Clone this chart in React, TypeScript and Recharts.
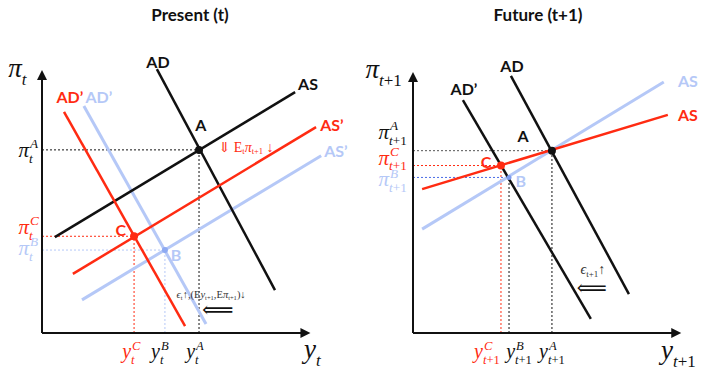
import React from "react";
import { ComposedChart, Line, XAxis, YAxis, ReferenceLine, ReferenceDot } from "recharts";

// output (x) and inflation (y) in diagram units, 0..100 on each axis
const presentAD = [{ output: 42.8, inflation: 99.6 }, { output: 86.8, inflation: 16.2 }];
const presentAS = [{ output: 4.8, inflation: 36.2 }, { output: 94.3, inflation: 90.9 }];
const presentADNew = [{ output: 8.2, inflation: 83.4 }, { output: 53.3, inflation: 2.6 }];
const presentASNew = [{ output: 11.5, inflation: 22.3 }, { output: 102.1, inflation: 77.7 }];
const presentADGhost = [{ output: 15.6, inflation: 85.7 }, { output: 61.1, inflation: 3.4 }];
const presentASGhost = [{ output: 14.9, inflation: 12.5 }, { output: 104, inflation: 66.9 }];
const presentA = { output: 58.5, inflation: 69.1 };
const presentC = { output: 34.3, inflation: 36.5 };
const presentB = { output: 45.8, inflation: 31.3 };

const futureAD = [{ output: 36.5, inflation: 97 }, { output: 80.5, inflation: 14.7 }];
const futureADNew = [{ output: 18.6, inflation: 87.9 }, { output: 66.3, inflation: 5.3 }];
const futureASGhost = [{ output: 3.4, inflation: 39.2 }, { output: 93.5, inflation: 94.7 }];
const futureASNew = [{ output: 3.4, inflation: 54.3 }, { output: 95, inflation: 82.3 }];
const futureA = { output: 51.8, inflation: 68.8 };
const futureC = { output: 32.8, inflation: 63.2 };
const futureB = { output: 35.8, inflation: 58.7 };

// tick labels, in the order C, B, A
const tickSups = ["C", "B", "A"];
const presentSub = "t";
const futureSub = "t+1";

const INK = "#111";
const RED = "#ff2b12";
const GHOST = "#b5c8f7";
const BLUE = "#4a6ce6";
const SERIF = "'Liberation Serif', 'DejaVu Serif', serif";
const ROUND = "Lato, 'DejaVu Sans', sans-serif";

// base symbol ends at x, super/subscript stacked right after it
function Sym({ x, y, base, sup, sub, color, size }: any) {
  const small = size * 0.63;
  const subParts = sub ? sub.split(/(\+1)/) : [];
  return (
    <g fill={color} fontFamily={SERIF}>
      <text x={x} y={y} textAnchor="end" fontSize={size} fontStyle="italic">{base}</text>
      {sup && <text x={x + 1} y={y - size * 0.42} fontSize={small} fontStyle="italic">{sup}</text>}
      {sub && (
        <text x={x} y={y + size * 0.28} fontSize={small}>
          {subParts.map((s: string, i: number) => (
            <tspan key={i} fontStyle={s === "+1" ? "normal" : "italic"}>{s}</tspan>
          ))}
        </text>
      )}
    </g>
  );
}

const tag = (text: string, color: string, size = 16) => (p: any) => (
  <text x={p.cx} y={p.cy} textAnchor="middle" dominantBaseline="central" fill={color}
    fontFamily={ROUND} fontWeight={700} fontSize={size}>{text}</text>
);

const axisArrow = (vertical: boolean) => (p: any) => {
  const { x1, y1, x2, y2 } = p;
  const head = vertical
    ? `${x2},${y2} ${x2 - 5},${y2 + 10} ${x2 + 5},${y2 + 10}`
    : `${x2},${y2} ${x2 - 10},${y2 - 5} ${x2 - 10},${y2 + 5}`;
  return (
    <g>
      <line x1={x1} y1={y1} x2={vertical ? x2 : x2 - 6} y2={vertical ? y2 + 6 : y2} stroke={INK} strokeWidth={2} />
      <polygon points={head} fill={INK} />
    </g>
  );
};

function Guides({ pt, h, v }: any) {
  return (
    <>
      <ReferenceLine segment={[{ x: 0, y: pt.inflation }, { x: pt.output, y: pt.inflation }]}
        stroke={h} strokeWidth={1} strokeDasharray="2 2" ifOverflow="visible" />
      <ReferenceLine segment={[{ x: pt.output, y: 0 }, { x: pt.output, y: pt.inflation }]}
        stroke={v} strokeWidth={1} strokeDasharray="2 2" ifOverflow="visible" />
    </>
  );
}

const seg = (data: any[], color: string, width = 2.5, key = "") => (
  <Line key={key} data={data} dataKey="inflation" type="linear" stroke={color} strokeWidth={width}
    dot={false} activeDot={false} isAnimationActive={false} />
);

// tick labels drawn at the scaled tick positions along each axis
function XTicks({ pts, colors, sub, dx }: any) {
  return pts.map((pt: any, i: number) => (
    <ReferenceDot key={"xt" + i} x={pt.output} y={0} ifOverflow="visible" shape={(p: any) => (
      <Sym x={p.cx + dx[i]} y={p.cy + 25} base="y" sup={tickSups[i]} sub={sub} color={colors[i]} size={20} />
    )} />
  ));
}

function YTicks({ pts, colors, sub, dx, dy }: any) {
  return pts.map((pt: any, i: number) => (
    <ReferenceDot key={"yt" + i} x={0} y={pt.inflation} ifOverflow="visible" shape={(p: any) => (
      <Sym x={p.cx + dx} y={p.cy + dy[i]} base="π" sup={tickSups[i]} sub={sub} color={colors[i]} size={21} />
    )} />
  ));
}

function PresentChart() {
  const pts = [presentC, presentB, presentA];
  return (
    <ComposedChart width={351} height={372} margin={{ top: 68, right: 3, bottom: 39, left: 42 }}>
      <XAxis type="number" dataKey="output" domain={[0, 114]} hide />
      <YAxis type="number" domain={[0, 100]} hide />

      <Guides pt={presentA} h={INK} v={INK} />
      <Guides pt={presentC} h={RED} v={RED} />
      <Guides pt={presentB} h={GHOST} v={GHOST} />

      <ReferenceLine segment={[{ x: 0, y: 0 }, { x: 0, y: 99.2 }]} shape={axisArrow(true)} ifOverflow="visible" />
      <ReferenceLine segment={[{ x: 0, y: 0 }, { x: 100, y: 0 }]} shape={axisArrow(false)} ifOverflow="visible" />

      {seg(presentASGhost, GHOST, 3, "asg")}
      {seg(presentADGhost, GHOST, 3, "adg")}
      {seg(presentAS, INK, 2.5, "as")}
      {seg(presentAD, INK, 2.5, "ad")}
      {seg(presentASNew, RED, 2.5, "asn")}
      {seg(presentADNew, RED, 2.5, "adn")}

      <ReferenceDot x={presentA.output} y={presentA.inflation} r={4} fill={INK} stroke="none" />
      <ReferenceDot x={presentC.output} y={presentC.inflation} r={4} fill={RED} stroke="none" />
      <ReferenceDot x={presentB.output} y={presentB.inflation} r={3} fill="#8eaaf2" stroke="none" />

      {XTicks({ pts, colors: [RED, INK, INK], sub: presentSub, dx: [-3, -5, -4] })}
      {YTicks({ pts, colors: [RED, GHOST, INK], sub: presentSub, dx: -13, dy: [-2, 5, 7] })}

      <ReferenceDot x={43.2} y={102.3} ifOverflow="visible" shape={tag("AD", INK)} />
      <ReferenceDot x={99.1} y={94} ifOverflow="visible" shape={tag("AS", INK)} />
      <ReferenceDot x={59.2} y={78.5} ifOverflow="visible" shape={tag("A", INK)} />
      <ReferenceDot x={10.4} y={89.4} ifOverflow="visible" shape={tag("AD’", RED)} />
      <ReferenceDot x={21.2} y={89.4} ifOverflow="visible" shape={tag("AD’", GHOST)} />
      <ReferenceDot x={108} y={78.5} ifOverflow="visible" shape={tag("AS’", RED)} />
      <ReferenceDot x={109.5} y={68.7} ifOverflow="visible" shape={tag("AS’", GHOST)} />
      <ReferenceDot x={29.4} y={39.2} ifOverflow="visible" shape={tag("C", RED)} />
      <ReferenceDot x={49.9} y={29.8} ifOverflow="visible" shape={tag("B", GHOST)} />

      <ReferenceDot x={76} y={69.8} ifOverflow="visible" shape={(p: any) => (
        <text x={p.cx} y={p.cy + 4} textAnchor="middle" fill={RED} fontFamily={SERIF} fontSize={14}>
          ⇓ E<tspan fontSize={8.5} dy={2}>t</tspan><tspan dy={-2} fontStyle="italic">π</tspan>
          <tspan fontSize={8.5} dy={2}>t+1</tspan><tspan dy={-2}> ↓</tspan>
        </text>
      )} />
      <ReferenceDot x={63} y={14.5} ifOverflow="visible" shape={(p: any) => (
        <text x={p.cx} y={p.cy + 3} textAnchor="middle" fill="#333" fontFamily={SERIF} fontSize={10.5}>
          <tspan fontStyle="italic">ϵ</tspan><tspan fontSize={6.5} dy={2}>t</tspan><tspan dy={-2}>↑,(E</tspan>
          <tspan fontStyle="italic">y</tspan><tspan fontSize={6.5} dy={2}>t+1</tspan><tspan dy={-2}>,E</tspan>
          <tspan fontStyle="italic">π</tspan><tspan fontSize={6.5} dy={2}>t+1</tspan><tspan dy={-2}>)↓</tspan>
        </text>
      )} />
      <ReferenceDot x={65.5} y={8.4} ifOverflow="visible" shape={(p: any) => (
        <text x={p.cx} y={p.cy + 6} textAnchor="middle" fill={INK} fontFamily={SERIF} fontSize={22}>⟸</text>
      )} />

      <ReferenceDot x={-7.5} y={96.6} ifOverflow="visible" shape={(p: any) => (
        <Sym x={p.cx} y={p.cy} base="π" sub="t" color={INK} size={27} />
      )} />
      <ReferenceDot x={102.1} y={-9.6} ifOverflow="visible" shape={(p: any) => (
        <Sym x={p.cx} y={p.cy} base="y" sub="t" color={INK} size={27} />
      )} />
    </ComposedChart>
  );
}

function FutureChart() {
  const pts = [futureC, futureB, futureA];
  return (
    <ComposedChart width={351} height={372} margin={{ top: 68, right: 2, bottom: 39, left: 62 }}>
      <XAxis type="number" dataKey="output" domain={[0, 107]} hide />
      <YAxis type="number" domain={[0, 100]} hide />

      <Guides pt={futureA} h="#555" v={INK} />
      <Guides pt={futureC} h={RED} v={RED} />
      <Guides pt={futureB} h={BLUE} v={INK} />

      <ReferenceLine segment={[{ x: 0, y: 0 }, { x: 0, y: 98.5 }]} shape={axisArrow(true)} ifOverflow="visible" />
      <ReferenceLine segment={[{ x: 0, y: 0 }, { x: 100, y: 0 }]} shape={axisArrow(false)} ifOverflow="visible" />

      {seg(futureASGhost, GHOST, 3, "asg")}
      {seg(futureAD, INK, 2.5, "ad")}
      {seg(futureADNew, INK, 2.5, "adn")}
      {seg(futureASNew, RED, 2.5, "asn")}

      <ReferenceDot x={futureA.output} y={futureA.inflation} r={4} fill={INK} stroke="none" />
      <ReferenceDot x={futureC.output} y={futureC.inflation} r={4} fill={RED} stroke="none" />
      <ReferenceDot x={futureB.output} y={futureB.inflation} r={2.5} fill="#7f9cf0" stroke="none" />

      {XTicks({ pts, colors: [RED, INK, INK], sub: futureSub, dx: [-18, 6, -4] })}
      {YTicks({ pts, colors: [RED, GHOST, INK], sub: futureSub, dx: -24, dy: [-1, 9, -12] })}

      <ReferenceDot x={36.9} y={101.1} ifOverflow="visible" shape={tag("AD", INK)} />
      <ReferenceDot x={19} y={92.1} ifOverflow="visible" shape={tag("AD’", INK)} />
      <ReferenceDot x={102.5} y={95.1} ifOverflow="visible" shape={tag("AS", GHOST)} />
      <ReferenceDot x={102.5} y={82.3} ifOverflow="visible" shape={tag("AS", RED)} />
      <ReferenceDot x={41} y={74.7} ifOverflow="visible" shape={tag("A", INK)} />
      <ReferenceDot x={27.2} y={64.9} ifOverflow="visible" shape={tag("C", RED)} />
      <ReferenceDot x={40.2} y={57.4} ifOverflow="visible" shape={tag("B", GHOST)} />

      <ReferenceDot x={67.1} y={23.4} ifOverflow="visible" shape={(p: any) => (
        <text x={p.cx} y={p.cy + 3} textAnchor="middle" fill="#333" fontFamily={SERIF} fontSize={14}>
          <tspan fontStyle="italic">ϵ</tspan><tspan fontSize={9} dy={3}>t+1</tspan><tspan dy={-3}>↑</tspan>
        </text>
      )} />
      <ReferenceDot x={66.7} y={16.6} ifOverflow="visible" shape={(p: any) => (
        <text x={p.cx} y={p.cy + 6} textAnchor="middle" fill={INK} fontFamily={SERIF} fontSize={21}>⟸</text>
      )} />

      <ReferenceDot x={-12.7} y={96.2} ifOverflow="visible" shape={(p: any) => (
        <Sym x={p.cx} y={p.cy} base="π" sub="t+1" color={INK} size={27} />
      )} />
      <ReferenceDot x={96.9} y={-9.8} ifOverflow="visible" shape={(p: any) => (
        <Sym x={p.cx} y={p.cy} base="y" sub="t+1" color={INK} size={27} />
      )} />
    </ComposedChart>
  );
}

const titleStyle: React.CSSProperties = {
  position: "absolute", top: 4, fontFamily: ROUND, fontWeight: 700, fontSize: 17,
  textAlign: "center", width: 200, color: INK,
};

export default function App() {
  return (
    <div style={{ position: "absolute", left: 0, top: 0, width: 702, height: 372, background: "#fff", overflow: "hidden" }}>
      <div style={{ ...titleStyle, left: 90 }}>Present (t)</div>
      <div style={{ ...titleStyle, left: 438 }}>Future (t+1)</div>
      <div style={{ position: "absolute", left: 0, top: 0 }}>
        <PresentChart />
      </div>
      <div style={{ position: "absolute", left: 351, top: 0 }}>
        <FutureChart />
      </div>
    </div>
  );
}
